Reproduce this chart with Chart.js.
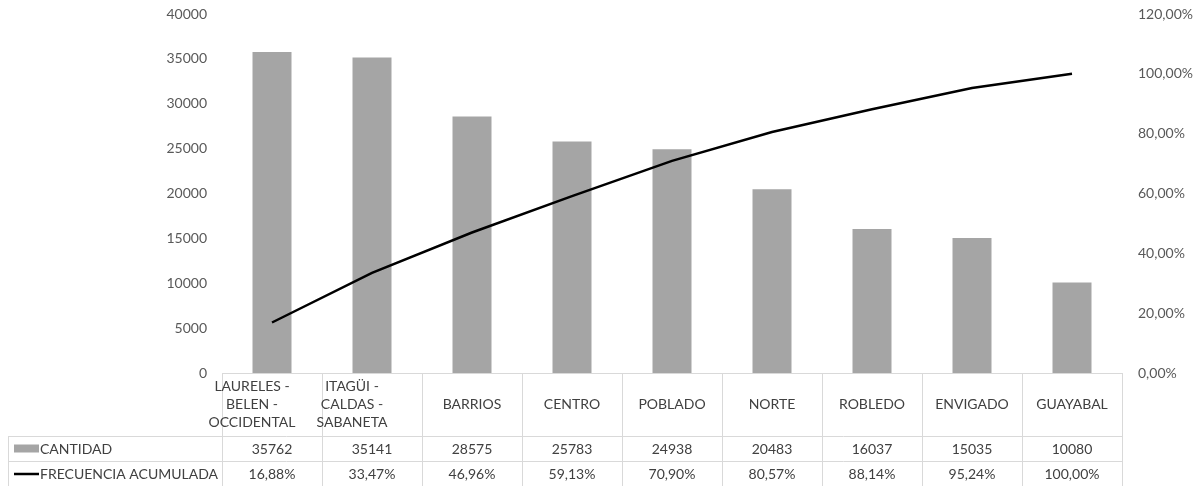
<!DOCTYPE html>
<html>
<head>
<meta charset="utf-8">
<script src="https://cdn.jsdelivr.net/npm/chart.js@4.4.1/dist/chart.umd.min.js"></script>
<style>
    html, body { margin: 0; padding: 0; background: #fff; }
    #wrap { width: 1200px; height: 486px; position: relative; }
</style>
</head>
<body>
<div id="wrap"><canvas id="paretoChart"></canvas></div>
<script>
// zonas (categorías), cada una partida en renglones como en la tabla
const zonas = [
    ["LAURELES -", "BELEN -", "OCCIDENTAL"],
    ["ITAGÜI -", "CALDAS -", "SABANETA"],
    ["BARRIOS"],
    ["CENTRO"],
    ["POBLADO"],
    ["NORTE"],
    ["ROBLEDO"],
    ["ENVIGADO"],
    ["GUAYABAL"],
];
const cantidad = [35762, 35141, 28575, 25783, 24938, 20483, 16037, 15035, 10080];
const frecuenciaAcumulada = [16.88, 33.47, 46.96, 59.13, 70.9, 80.57, 88.14, 95.24, 100.0];

// marcas de los ejes
const ticksCantidad = [0, 5000, 10000, 15000, 20000, 25000, 30000, 35000, 40000];
const ticksPorcentaje = [0, 20, 40, 60, 80, 100, 120];

const FONT = "Lato, 'Open Sans', sans-serif";
const fmtPct = (v) => v.toFixed(2).replace(".", ",") + "%";

// tabla de datos debajo del gráfico (estilo Excel)
const tablaDatos = {
    id: "tablaDatos",
    afterDraw(chart) {
        const { ctx, chartArea, scales } = chart;
        const x = scales.x;
        const n = zonas.length;
        const colW = (chartArea.right - chartArea.left) / n;
        const top = chartArea.bottom;
        const r1 = top + 63;
        const r2 = r1 + 25;
        const r3 = r2 + 25;
        const outerLeft = 8;

        ctx.save();
        ctx.strokeStyle = "#d9d9d9";
        ctx.lineWidth = 1;
        ctx.beginPath();
        ctx.moveTo(chartArea.left, top + 0.5);
        ctx.lineTo(chartArea.right, top + 0.5);
        ctx.moveTo(outerLeft, r1 + 0.5);
        ctx.lineTo(chartArea.right, r1 + 0.5);
        ctx.moveTo(outerLeft, r2 + 0.5);
        ctx.lineTo(chartArea.right, r2 + 0.5);
        ctx.moveTo(outerLeft + 0.5, r1);
        ctx.lineTo(outerLeft + 0.5, r3);
        for (let i = 0; i <= n; i++) {
            const xb = Math.round(chartArea.left + i * colW) + 0.5;
            ctx.moveTo(xb, top);
            ctx.lineTo(xb, r3);
        }
        ctx.stroke();

        ctx.fillStyle = "#404040";
        ctx.font = "14px " + FONT;
        ctx.textAlign = "center";
        ctx.textBaseline = "middle";
        zonas.forEach((lineas, i) => {
            const cx = x.getPixelForValue(i);
            const cxHead = lineas.length > 1 ? cx - 20 : cx; // el texto envuelto queda corrido
            const midHead = (top + r1) / 2;
            lineas.forEach((t, k) => {
                ctx.fillText(t, cxHead, midHead + (k - (lineas.length - 1) / 2) * 18);
            });
            ctx.fillText(String(cantidad[i]), cx, (r1 + r2) / 2 + 1);
            ctx.fillText(fmtPct(frecuenciaAcumulada[i]), cx, (r2 + r3) / 2 + 1);
        });

        // leyendas de las filas
        ctx.textAlign = "left";
        ctx.fillStyle = "#a5a5a5";
        ctx.fillRect(14, (r1 + r2) / 2 - 4, 25, 8);
        ctx.strokeStyle = "#000";
        ctx.lineWidth = 2.5;
        ctx.beginPath();
        ctx.moveTo(14, (r2 + r3) / 2 + 0.5);
        ctx.lineTo(39, (r2 + r3) / 2 + 0.5);
        ctx.stroke();
        ctx.fillStyle = "#404040";
        ctx.fillText("CANTIDAD", 40, (r1 + r2) / 2 + 1);
        ctx.fillText("FRECUENCIA ACUMULADA", 40, (r2 + r3) / 2 + 1);
        ctx.restore();
    },
};

const ctxPareto = document.getElementById("paretoChart").getContext("2d");

const paretoChart = new Chart(ctxPareto, {
    type: "bar",
    data: {
        labels: zonas,
        datasets: [
            {
                type: "line",
                label: "FRECUENCIA ACUMULADA",
                data: frecuenciaAcumulada,
                yAxisID: "y1",
                borderColor: "#000",
                borderWidth: 2.5,
                pointRadius: 0,
                tension: 0,
                fill: false,
                order: 0,
            },
            {
                label: "CANTIDAD",
                data: cantidad,
                yAxisID: "y",
                backgroundColor: "#a5a5a5",
                categoryPercentage: 1,
                barPercentage: 0.39,
                order: 1,
            },
        ],
    },
    options: {
        responsive: true,
        maintainAspectRatio: false,
        animation: false,
        layout: {
            padding: { top: 14, bottom: 113, left: 0, right: 0 },
        },
        plugins: {
            legend: { display: false },
            tooltip: { enabled: false },
        },
        scales: {
            x: {
                grid: { display: false, drawTicks: false },
                border: { display: false },
                ticks: { display: false },
                afterFit: (scale) => {
                    scale.height = 0;
                },
            },
            y: {
                position: "left",
                min: ticksCantidad[0],
                max: ticksCantidad[ticksCantidad.length - 1],
                grid: { display: false, drawTicks: false },
                border: { display: false },
                ticks: {
                    stepSize: ticksCantidad[1] - ticksCantidad[0],
                    padding: 15,
                    color: "#595959",
                    font: { family: FONT, size: 14 },
                    callback: (value) => String(value),
                },
                afterFit: (scale) => {
                    scale.width = 222;
                    scale.paddingTop = 0;
                    scale.paddingBottom = 0;
                },
            },
            y1: {
                position: "right",
                min: ticksPorcentaje[0],
                max: ticksPorcentaje[ticksPorcentaje.length - 1],
                grid: { display: false, drawTicks: false },
                border: { display: false },
                ticks: {
                    stepSize: ticksPorcentaje[1] - ticksPorcentaje[0],
                    padding: 16,
                    color: "#595959",
                    font: { family: FONT, size: 14 },
                    callback: (value) => fmtPct(value),
                },
                afterFit: (scale) => {
                    scale.width = 78;
                    scale.paddingTop = 0;
                    scale.paddingBottom = 0;
                },
            },
        },
    },
    plugins: [tablaDatos],
});
</script>
</body>
</html>
